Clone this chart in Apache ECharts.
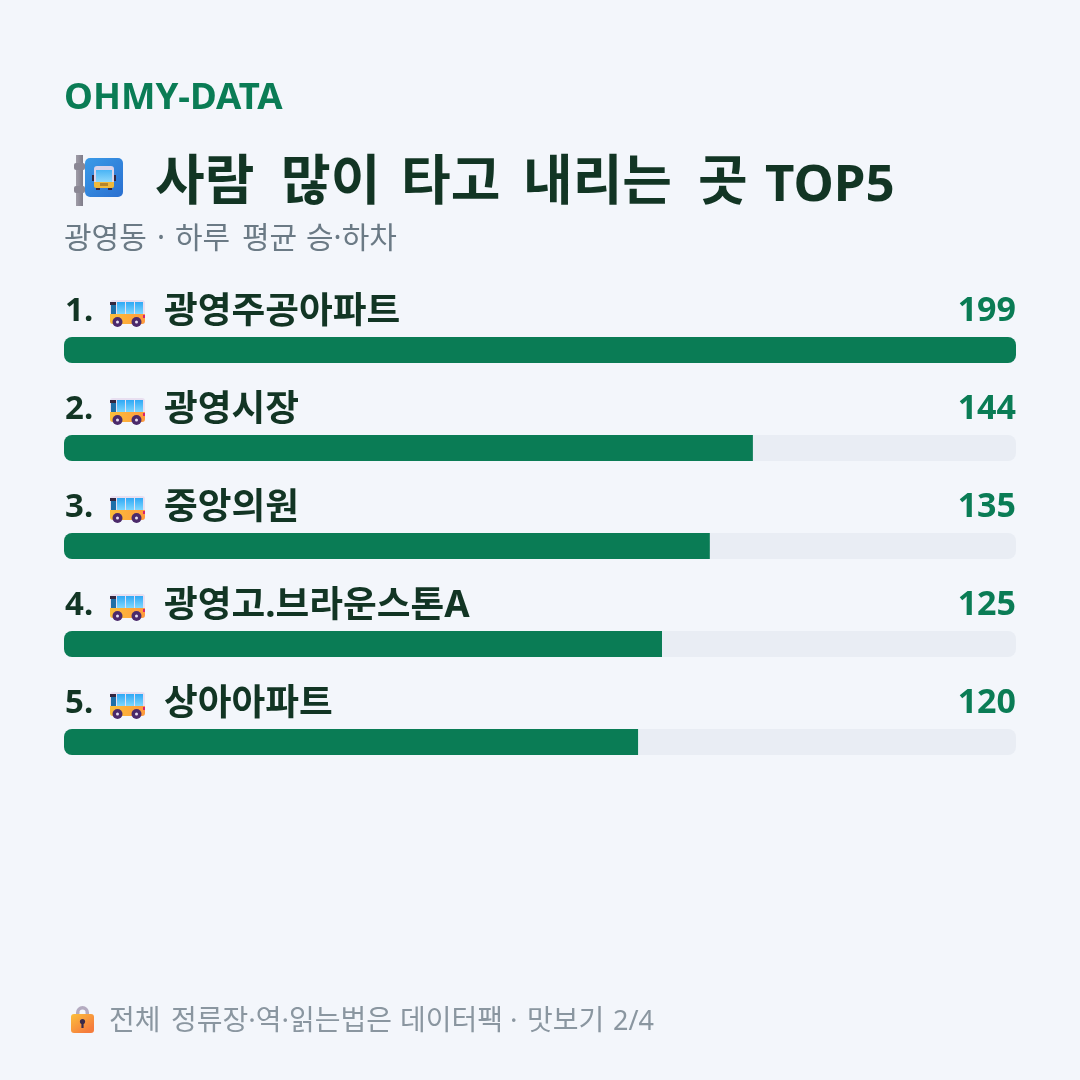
<!DOCTYPE html>
<html><head><meta charset="utf-8">
<style>html,body{margin:0;padding:0;background:#f3f6fb}#c{width:1080px;height:1080px}</style>
<script src="https://cdn.jsdelivr.net/npm/echarts@6/dist/echarts.min.js"></script>
</head><body><div id="c"></div>
<script>
const stops = ['광영주공아파트','광영시장','중앙의원','광영고.브라운스톤A','상아아파트'];
const riders = [199,144,135,125,120];
const ranks = ['1.','2.','3.','4.','5.'];

const FONT = '"Noto Sans","Noto Sans CJK KR",sans-serif';
const INK = '#123524', GREEN = '#0a7c55';
const chart = echarts.init(document.getElementById('c'),null,{renderer:'canvas'});

// Word-by-word placement keeps the generous word gaps of the heading lines.
function line(words, y, font, fill){
  return words.map(([t,x,f]) => ({type:'text',x,y,style:{text:t,font:(f||font)+' '+FONT,fill,verticalAlign:'bottom'}}));
}
const lin = (x0,y0,x1,y1,a,b) => ({type:'linear',x:x0,y:y0,x2:x1,y2:y1,global:false,colorStops:[{offset:0,color:a},{offset:1,color:b}]});

// Bus pictogram, side view, about 35x27.
function busIcon(x,y){
  const glass = lin(0,0,0,1,'#2fa8f5','#7fd8ff');
  const p = [
   {type:'rect',shape:{x:0,y:0,width:35,height:24,r:[3,3,2,2]},style:{fill:'#e8dff0'}},
   {type:'rect',shape:{x:0,y:14,width:35,height:10,r:[0,0,3,3]},style:{fill:lin(0,0,1,0,'#fbbf3a','#ff9a3d')}},
   {type:'rect',shape:{x:1,y:2,width:5,height:12},style:{fill:'#1e6fa8'}},
   {type:'rect',shape:{x:0,y:2,width:6,height:3},style:{fill:'#33263f'}},
   {type:'rect',shape:{x:7,y:2,width:8,height:12},style:{fill:glass}},
   {type:'rect',shape:{x:16,y:2,width:8,height:12},style:{fill:glass}},
   {type:'rect',shape:{x:25,y:2,width:8,height:12},style:{fill:glass}},
   {type:'rect',shape:{x:33,y:15,width:2,height:3},style:{fill:'#d6246e'}},
   {type:'circle',shape:{cx:7.5,cy:22,r:5},style:{fill:'#4b2a6b'}},
   {type:'circle',shape:{cx:7.5,cy:22,r:1.5},style:{fill:'#e8dff0'}},
   {type:'circle',shape:{cx:26.5,cy:22,r:5},style:{fill:'#4b2a6b'}},
   {type:'circle',shape:{cx:26.5,cy:22,r:1.5},style:{fill:'#e8dff0'}}
  ];
  return {type:'group',x,y,children:p};
}
// Bus-stop sign: grey pole with a blue plate and a front-facing bus.
function stopIcon(x,y){
  const p = [
   {type:'rect',shape:{x:2,y:0,width:7,height:51},style:{fill:lin(0,0,1,0,'#a09da8','#7f7c89')}},
   {type:'rect',shape:{x:0,y:8,width:11,height:7,r:2},style:{fill:'#8a8794'}},
   {type:'rect',shape:{x:0,y:31,width:11,height:7,r:2},style:{fill:'#8a8794'}},
   {type:'rect',shape:{x:11,y:3,width:38,height:39,r:5},style:{fill:lin(0,0,1,1,'#3a9be8','#2a6fd0')}},
   {type:'rect',shape:{x:18,y:20,width:2,height:6},style:{fill:'#33263f'}},
   {type:'rect',shape:{x:40,y:20,width:2,height:6},style:{fill:'#33263f'}},
   {type:'rect',shape:{x:22,y:32,width:4,height:3},style:{fill:'#33263f'}},
   {type:'rect',shape:{x:34,y:32,width:4,height:3},style:{fill:'#33263f'}},
   {type:'rect',shape:{x:20,y:11,width:20,height:21,r:3},style:{fill:'#d9d3ea'}},
   {type:'rect',shape:{x:22,y:15,width:16,height:12},style:{fill:lin(0,0,0,1,'#4ab4f5','#8ed8fb')}},
   {type:'rect',shape:{x:20,y:27,width:20,height:6,r:[0,0,2,2]},style:{fill:'#f0b93a'}},
   {type:'rect',shape:{x:26,y:28,width:8,height:3},style:{fill:'#b5852a'}}
  ];
  return {type:'group',x,y,children:p};
}
// Padlock pictogram for the footer.
function lockIcon(x,y){
  const p = [
   {type:'arc',shape:{cx:11.5,cy:7.5,r:4.8,startAngle:Math.PI,endAngle:0},style:{fill:'none',stroke:'#b4abc0',lineWidth:3.4}},
   {type:'rect',shape:{x:5,y:7,width:3.4,height:4},style:{fill:'#b4abc0'}},
   {type:'rect',shape:{x:14.6,y:7,width:3.4,height:4},style:{fill:'#b4abc0'}},
   {type:'rect',shape:{x:0,y:9,width:23,height:19,r:3},style:{fill:lin(0,0,0.6,1,'#fcc03c','#f57c3c')}},
   {type:'circle',shape:{cx:11.5,cy:16.5,r:2.6},style:{fill:'#3a2a4a'}},
   {type:'rect',shape:{x:10.4,y:17,width:2.2,height:6},style:{fill:'#3a2a4a'}}
  ];
  return {type:'group',x,y,children:p};
}

const g = [
 ...line([['OHMY-DATA',64]],117,'700 36.6px',GREEN),
 stopIcon(74,155),
 ...line([['사람',155],['많이',281],['타고',401],['내리는',523],['곳',698],['TOP5',765,'700 51px']],212,'700 54px',INK),
 ...line([['광영동',64],['·',157],['하루',175],['평균',242],['승·하차',306]],254,'400 30px','#6b7a85'),
 lockIcon(71,1005),
 ...line([['전체',109],['정류장·역·읽는법은',171],['데이터팩',400],['·',510],['맛보기',527],['2/4',613,'400 27px']],1036,'400 28px','#8a96a0')
];
stops.forEach((s,i)=>{
  const dy = i*98;
  g.push(...line([[ranks[i],65]],328+dy,'700 33px',INK));
  g.push(busIcon(110,300+dy));
  g.push(...line([[s,164]],331+dy,'700 36.7px',INK));
  g.push({type:'text',x:1016,y:328+dy,style:{text:String(riders[i]),font:'700 34px '+FONT,fill:GREEN,align:'right',verticalAlign:'bottom'}});
});

chart.setOption({
  animation:false,
  backgroundColor:'#f3f6fb',
  grid:{left:64,right:64,top:301,height:490},
  xAxis:{type:'value',min:0,max:199,show:false},
  yAxis:{type:'category',data:stops,inverse:true,show:false},
  series:[{type:'bar',barWidth:26,showBackground:true,
    backgroundStyle:{color:'#e9edf4',borderRadius:8},
    data:riders.map((v,i)=>({value:v,itemStyle:{color:GREEN,borderRadius:i===0?8:[8,0,0,8]}}))}],
  graphic:g
});
</script></body></html>
